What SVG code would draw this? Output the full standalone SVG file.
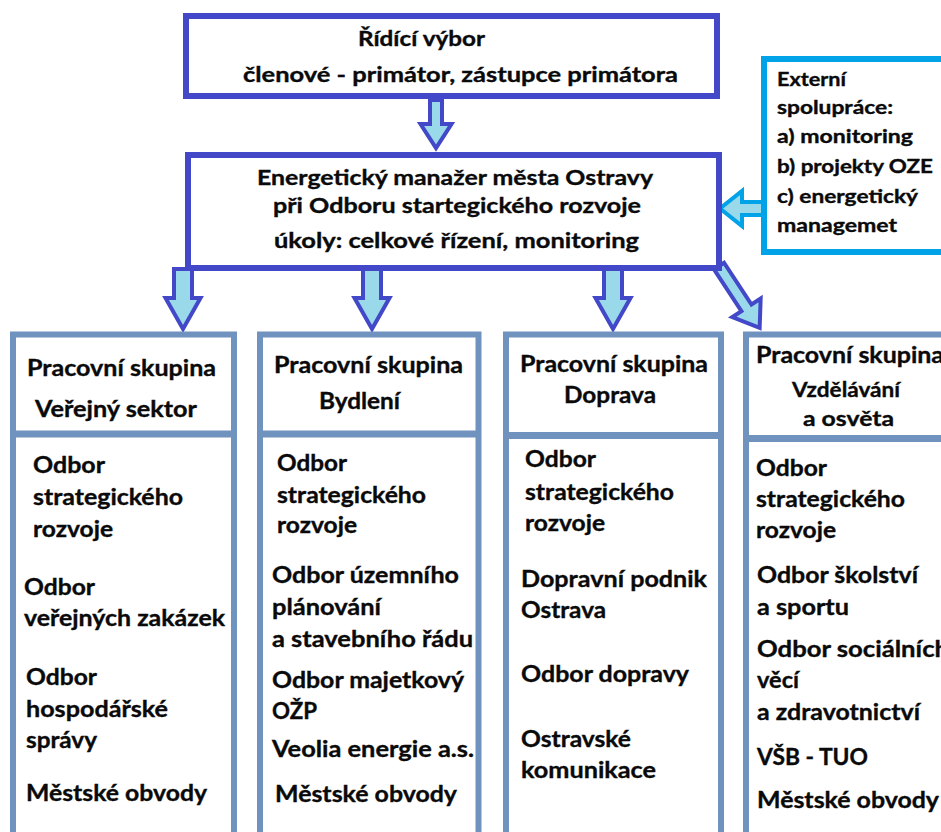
<svg xmlns="http://www.w3.org/2000/svg" width="941" height="832" viewBox="0 0 941 832">
<style>
.box{fill:#fff;stroke:#4348C8;stroke-width:6}
.ext{fill:#fff;stroke:#00A2E8;stroke-width:6}
.grp{fill:#fff;stroke:#7092BE;stroke-width:6}
.div{stroke:#7092BE;stroke-width:7}
.arr{fill:#99D9EA;stroke:#4348C8;stroke-width:4;stroke-linejoin:miter}
.arrc{fill:#99D9EA;stroke:#00A2E8;stroke-width:4;stroke-linejoin:miter}
text{font-family:Lato,"Open Sans","Liberation Sans",sans-serif;font-weight:700;fill:#0a0a0a;stroke:#0a0a0a;stroke-width:0.35}
.f21{font-size:21px}.f22{font-size:22px}.f18{font-size:18px}.f20{font-size:20px}
</style>
<defs>
<path id="darr" d="M-9 0 L9 0 L9 29 L17.5 29 L0 60 L-17.5 29 L-9 29 Z"/>
</defs>
<rect width="941" height="832" fill="#fff"/>
<g id="connectors">
<path class="arr" d="M430 100 L442 100 L442 124 L451.5 124 L436 148 L420.5 124 L430 124 Z"/>
<use href="#darr" class="arr" transform="translate(183,269)"/>
<use href="#darr" class="arr" transform="translate(372,269)"/>
<use href="#darr" class="arr" transform="translate(613,269)"/>
<path class="arr" transform="translate(719,266) rotate(-33.3)" d="M-6 0 L6 0 L6 50 L17 50 L0 74 L-17 50 L-6 50 Z"/>
<path class="arrc" d="M763 202 L742 202 L742 191 L720 208.5 L742 226 L742 215 L763 215 Z"/>
</g>
<g id="n-ridici">
<rect class="box" x="186" y="16" width="531" height="80"/>
<text class="f21" x="358" y="46" textLength="127" lengthAdjust="spacingAndGlyphs">Řídící výbor</text>
<text class="f21" x="243" y="82" textLength="435" lengthAdjust="spacingAndGlyphs">členové - primátor, zástupce primátora</text>
</g>
<g id="n-manazer">
<rect class="box" x="188" y="155" width="531" height="113"/>
<text class="f21" x="257" y="185" textLength="396" lengthAdjust="spacingAndGlyphs">Energetický manažer města Ostravy</text>
<text class="f21" x="273" y="213" textLength="368" lengthAdjust="spacingAndGlyphs">při Odboru startegického rozvoje</text>
<text class="f21" x="274" y="248" textLength="365" lengthAdjust="spacingAndGlyphs">úkoly: celkové řízení, monitoring</text>
</g>
<g id="n-externi">
<rect class="ext" x="764" y="59" width="200" height="193"/>
<text class="f18" x="777" y="86" textLength="69" lengthAdjust="spacingAndGlyphs">Externí</text>
<text class="f18" x="777" y="114" textLength="116" lengthAdjust="spacingAndGlyphs">spolupráce:</text>
<text class="f18" x="777" y="143" textLength="136" lengthAdjust="spacingAndGlyphs">a) monitoring</text>
<text class="f18" x="777" y="173" textLength="156" lengthAdjust="spacingAndGlyphs">b) projekty OZE</text>
<text class="f18" x="777" y="203" textLength="141" lengthAdjust="spacingAndGlyphs">c) energetický</text>
<text class="f18" x="777" y="232" textLength="120" lengthAdjust="spacingAndGlyphs">managemet</text>
</g>
<g id="n-verejny">
<rect class="grp" x="13" y="334.5" width="221" height="520"/>
<line class="div" x1="13" y1="434" x2="234" y2="434"/>
<text class="f22" x="27" y="376" textLength="189" lengthAdjust="spacingAndGlyphs">Pracovní skupina</text>
<text class="f22" x="35" y="417" textLength="162" lengthAdjust="spacingAndGlyphs">Veřejný sektor</text>
<text class="f22" x="33" y="473" textLength="72" lengthAdjust="spacingAndGlyphs">Odbor</text>
<text class="f22" x="33" y="505" textLength="150" lengthAdjust="spacingAndGlyphs">strategického</text>
<text class="f22" x="33" y="537" textLength="80" lengthAdjust="spacingAndGlyphs">rozvoje</text>
<text class="f22" x="24" y="595" textLength="71" lengthAdjust="spacingAndGlyphs">Odbor</text>
<text class="f22" x="24" y="626" textLength="201" lengthAdjust="spacingAndGlyphs">veřejných zakázek</text>
<text class="f22" x="26" y="685" textLength="71" lengthAdjust="spacingAndGlyphs">Odbor</text>
<text class="f22" x="26" y="717" textLength="142" lengthAdjust="spacingAndGlyphs">hospodářské</text>
<text class="f22" x="26" y="748" textLength="71" lengthAdjust="spacingAndGlyphs">správy</text>
<text class="f22" x="26" y="801" textLength="181" lengthAdjust="spacingAndGlyphs">Městské obvody</text>
</g>
<g id="n-bydleni">
<rect class="grp" x="260" y="334.5" width="218.5" height="520"/>
<line class="div" x1="260" y1="434" x2="478.5" y2="434"/>
<text class="f22" x="274" y="373" textLength="189" lengthAdjust="spacingAndGlyphs">Pracovní skupina</text>
<text class="f22" x="319" y="409" textLength="81" lengthAdjust="spacingAndGlyphs">Bydlení</text>
<text class="f22" x="277" y="471" textLength="70" lengthAdjust="spacingAndGlyphs">Odbor</text>
<text class="f22" x="277" y="503" textLength="149" lengthAdjust="spacingAndGlyphs">strategického</text>
<text class="f22" x="277" y="533" textLength="80" lengthAdjust="spacingAndGlyphs">rozvoje</text>
<text class="f22" x="272" y="583" textLength="187" lengthAdjust="spacingAndGlyphs">Odbor územního</text>
<text class="f22" x="272" y="615" textLength="109" lengthAdjust="spacingAndGlyphs">plánování</text>
<text class="f22" x="272" y="647" textLength="201" lengthAdjust="spacingAndGlyphs">a stavebního řádu</text>
<text class="f22" x="272" y="688" textLength="192" lengthAdjust="spacingAndGlyphs">Odbor majetkový</text>
<text class="f22" x="272" y="719" textLength="45" lengthAdjust="spacingAndGlyphs">OŽP</text>
<text class="f22" x="272" y="757" textLength="202" lengthAdjust="spacingAndGlyphs">Veolia energie a.s.</text>
<text class="f22" x="275" y="802" textLength="182" lengthAdjust="spacingAndGlyphs">Městské obvody</text>
</g>
<g id="n-doprava">
<rect class="grp" x="506" y="334.5" width="215" height="520"/>
<line class="div" x1="506" y1="435.5" x2="721" y2="435.5"/>
<text class="f22" x="520" y="372" textLength="188" lengthAdjust="spacingAndGlyphs">Pracovní skupina</text>
<text class="f22" x="564" y="403" textLength="92" lengthAdjust="spacingAndGlyphs">Doprava</text>
<text class="f22" x="525" y="467" textLength="71" lengthAdjust="spacingAndGlyphs">Odbor</text>
<text class="f22" x="525" y="500" textLength="149" lengthAdjust="spacingAndGlyphs">strategického</text>
<text class="f22" x="525" y="531" textLength="80" lengthAdjust="spacingAndGlyphs">rozvoje</text>
<text class="f22" x="521" y="587" textLength="186" lengthAdjust="spacingAndGlyphs">Dopravní podnik</text>
<text class="f22" x="521" y="618" textLength="85" lengthAdjust="spacingAndGlyphs">Ostrava</text>
<text class="f22" x="521" y="682" textLength="168" lengthAdjust="spacingAndGlyphs">Odbor dopravy</text>
<text class="f22" x="521" y="747" textLength="110" lengthAdjust="spacingAndGlyphs">Ostravské</text>
<text class="f22" x="521" y="778" textLength="135" lengthAdjust="spacingAndGlyphs">komunikace</text>
</g>
<g id="n-vzdelavani">
<rect class="grp" x="746" y="334.5" width="240" height="520"/>
<line class="div" x1="746" y1="438.5" x2="986" y2="438.5"/>
<text class="f22" x="756" y="363" textLength="188" lengthAdjust="spacingAndGlyphs">Pracovní skupina</text>
<text class="f20" x="792" y="397" textLength="108" lengthAdjust="spacingAndGlyphs">Vzdělávání</text>
<text class="f20" x="803" y="426" textLength="91" lengthAdjust="spacingAndGlyphs">a osvěta</text>
<text class="f22" x="756" y="476" textLength="71" lengthAdjust="spacingAndGlyphs">Odbor</text>
<text class="f22" x="756" y="507" textLength="149" lengthAdjust="spacingAndGlyphs">strategického</text>
<text class="f22" x="756" y="538" textLength="80" lengthAdjust="spacingAndGlyphs">rozvoje</text>
<text class="f22" x="757" y="583" textLength="161" lengthAdjust="spacingAndGlyphs">Odbor školství</text>
<text class="f22" x="757" y="615" textLength="92" lengthAdjust="spacingAndGlyphs">a sportu</text>
<text class="f22" x="757" y="657" textLength="192" lengthAdjust="spacingAndGlyphs">Odbor sociálních</text>
<text class="f22" x="757" y="688" textLength="42" lengthAdjust="spacingAndGlyphs">věcí</text>
<text class="f22" x="757" y="720" textLength="163" lengthAdjust="spacingAndGlyphs">a zdravotnictví</text>
<text class="f22" x="757" y="765" textLength="111" lengthAdjust="spacingAndGlyphs">VŠB - TUO</text>
<text class="f22" x="757" y="808" textLength="182" lengthAdjust="spacingAndGlyphs">Městské obvody</text>
</g>
</svg>
